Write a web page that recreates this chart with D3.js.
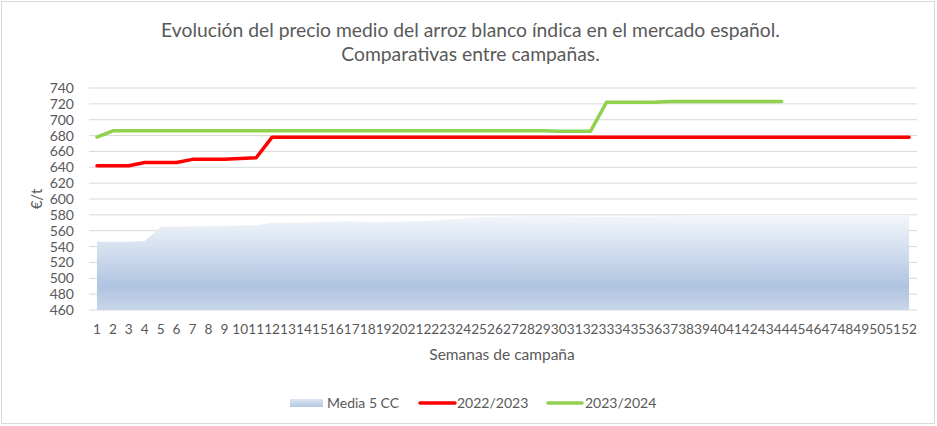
<!DOCTYPE html>
<html><head><meta charset="utf-8">
<script src="https://cdn.jsdelivr.net/npm/d3@7"></script>
<style>body{margin:0;background:#fff}svg{display:block}text{font-family:Lato,"Open Sans",sans-serif;fill:#595959}</style>
</head><body><svg id="c" width="937" height="426"></svg>
<script>
const weeks = d3.range(1, 53);
const media5 = [546,546,546,547,565,565,565.5,566,566,566.5,567,570,570,570.5,571,571.5,572,571,571,571.5,572,572.5,574,575.5,577,577.5,578,578.5,578.5,578.5,578,577.5,577.5,577.5,578,578,578.5,579,579.5,580,580,580,580,580,580,580,580,580,580,580,580,580];
const c2223 = [642,642,642,646,646,646,650,650,650,651,652,678,678,678,678,678,678,678,678,678,678,678,678,678,678,678,678,678,678,678,678,678,678,678,678,678,678,678,678,678,678,678,678,678,678,678,678,678,678,678,678,678];
const c2324 = [678,686,686,686,686,686,686,686,686,686,686,686,686,686,686,686,686,686,686,686,686,686,686,686,686,686,686,686,686,685.5,685.5,685.5,722,722,722,722,723,723,723,723,723,723,723,723];
const yTicks = d3.range(460, 741, 20);
const seriesNames = ["Media 5 CC", "2022/2023", "2023/2024"];
const titleLines = ["Evolución del precio medio del arroz blanco índica en el mercado español.", "Comparativas entre campañas."];

const svg = d3.select("#c");
const x = d3.scaleBand().domain(weeks).range([89, 917]).paddingInner(0).paddingOuter(0);
const xc = d => x(d) + x.bandwidth() / 2;
const y = d3.scaleLinear().domain([460, 740]).range([310, 88]);

svg.append("rect").attr("x", 1.5).attr("y", 1.5).attr("width", 933).attr("height", 422)
  .attr("fill", "#fff").attr("stroke", "#d9d9d9");

const defs = svg.append("defs");
const g = defs.append("linearGradient").attr("id", "ag").attr("gradientUnits", "userSpaceOnUse")
  .attr("x1", 0).attr("x2", 0).attr("y1", y(580)).attr("y2", y(460));
g.append("stop").attr("offset", 0).attr("stop-color", "#f4f7fb");
g.append("stop").attr("offset", 0.76).attr("stop-color", "#afc4e1");
g.append("stop").attr("offset", 1).attr("stop-color", "#c9d6ea");

// gridlines
svg.append("g").selectAll("line").data(yTicks).join("line")
  .attr("x1", 89).attr("x2", 917).attr("y1", d => y(d)).attr("y2", d => y(d))
  .attr("stroke", "#d9d9d9").attr("stroke-width", 1);

// area
svg.append("path").datum(media5.map((v, i) => [weeks[i], v]))
  .attr("fill", "url(#ag)")
  .attr("d", d3.area().x(d => xc(d[0])).y0(y(460)).y1(d => y(d[1])));

const line = d3.line().x(d => xc(d[0])).y(d => y(d[1]));
svg.append("path").datum(c2223.map((v, i) => [weeks[i], v]))
  .attr("fill", "none").attr("stroke", "#ff0000").attr("stroke-width", 3.5)
  .attr("stroke-linejoin", "round").attr("stroke-linecap", "round").attr("d", line);
svg.append("path").datum(c2324.map((v, i) => [weeks[i], v]))
  .attr("fill", "none").attr("stroke", "#92d050").attr("stroke-width", 3.5)
  .attr("stroke-linejoin", "round").attr("stroke-linecap", "round").attr("d", line);

// y axis
const ya = svg.append("g").attr("transform", "translate(89,0)")
  .call(d3.axisLeft(y).tickValues(yTicks).tickSize(0).tickPadding(15));
ya.select(".domain").remove();
ya.selectAll("text").attr("font-size", 14).attr("fill", "#595959").style("font-family", "Lato");

// x axis
const xa = svg.append("g").attr("transform", "translate(0,310)")
  .call(d3.axisBottom(x).tickSize(0).tickPadding(14));
xa.select(".domain").remove();
xa.selectAll("text").attr("font-size", 13.7).attr("fill", "#595959").style("font-family", "Lato");

svg.append("text").attr("x", 502).attr("y", 360).attr("text-anchor", "middle")
  .attr("font-size", 15.5).text("Semanas de campaña");
svg.append("text").attr("transform", "translate(42,199) rotate(-90)").attr("text-anchor", "middle")
  .attr("font-size", 15).text("€/t");

svg.selectAll(".title").data(titleLines).join("text").attr("class", "title")
  .attr("x", 470.5).attr("y", (d, i) => 37 + i * 24).attr("text-anchor", "middle")
  .attr("font-size", 19.3).text(d => d);

// legend
const lgg = defs.append("linearGradient").attr("id", "lgrad").attr("x1", 0).attr("x2", 0).attr("y1", 0).attr("y2", 1);
lgg.append("stop").attr("offset", 0).attr("stop-color", "#dbe4f1");
lgg.append("stop").attr("offset", 1).attr("stop-color", "#b3c7e2");
const lg = svg.append("g");
lg.append("rect").attr("x", 290).attr("y", 399).attr("width", 33).attr("height", 8).attr("fill", "url(#lgrad)");
lg.append("line").attr("x1", 420).attr("x2", 455).attr("y1", 403).attr("y2", 403).attr("stroke", "#ff0000").attr("stroke-width", 3.5).attr("stroke-linecap", "round");
lg.append("line").attr("x1", 548).attr("x2", 582).attr("y1", 403).attr("y2", 403).attr("stroke", "#92d050").attr("stroke-width", 3.5).attr("stroke-linecap", "round");
const lx = [327, 457, 585];
lg.selectAll("text").data(seriesNames).join("text")
  .attr("x", (d, i) => lx[i]).attr("y", 408).attr("font-size", 14).text(d => d);
</script></body></html>
